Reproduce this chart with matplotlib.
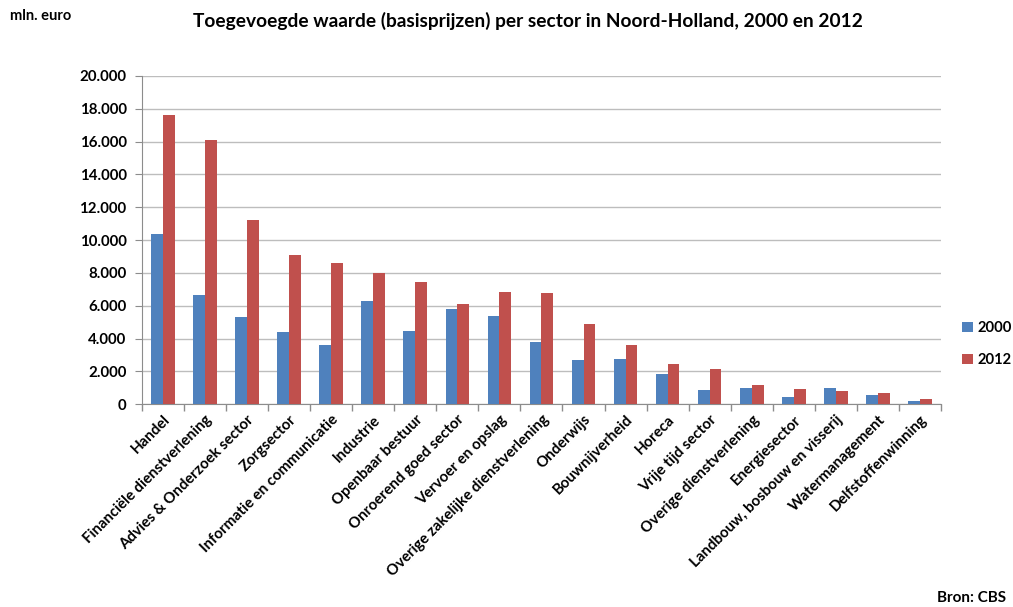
import matplotlib
matplotlib.use("Agg")
import matplotlib.pyplot as plt
import numpy as np
from matplotlib.ticker import FuncFormatter

categories = ["Handel", "Financiële dienstverlening", "Advies & Onderzoek sector", "Zorgsector",
              "Informatie en communicatie", "Industrie", "Openbaar bestuur", "Onroerend goed sector",
              "Vervoer en opslag", "Overige zakelijke dienstverlening", "Onderwijs", "Bouwnijverheid",
              "Horeca", "Vrije tijd sector", "Overige dienstverlening", "Energiesector",
              "Landbouw, bosbouw en visserij", "Watermanagement", "Delfstoffenwinning"]
values_2000 = [10350, 6630, 5300, 4390, 3580, 6300, 4440, 5830, 5350, 3780, 2720, 2780,
               1870, 850, 1020, 450, 980, 590, 200]
values_2012 = [17600, 16080, 11200, 9070, 8600, 8010, 7440, 6080, 6810, 6770, 4880, 3620,
               2480, 2150, 1160, 910, 810, 670, 300]
series_labels = ["2000", "2012"]
yticks = [0, 2000, 4000, 6000, 8000, 10000, 12000, 14000, 16000, 18000, 20000]

plt.rcParams['font.family'] = ['Lato', 'DejaVu Sans']
plt.rcParams['font.weight'] = 'bold'

fig = plt.figure(figsize=(10.13, 6.07), dpi=100)
ax = fig.add_axes([0.140, 0.334, 0.789, 0.541])

x = np.arange(len(categories))
w = 0.28
blue = "#4F81BD"
red = "#C0504D"
ax.bar(x - w / 2, values_2000, w, color=blue, label=series_labels[0], zorder=3)
ax.bar(x + w / 2, values_2012, w, color=red, label=series_labels[1], zorder=3)

ax.set_xlim(-0.5, len(categories) - 0.5)
ax.set_ylim(0, 20000)
ax.set_yticks(yticks)
ax.yaxis.set_major_formatter(FuncFormatter(lambda v, p: f"{int(v):,}".replace(",", ".")))
ax.grid(axis='y', color="#BDBDBD", linewidth=1.0, zorder=0)

ax.set_xticks(x)
ax.set_xticklabels(categories, rotation=45, ha='right', rotation_mode='anchor', fontsize=10.8,
                   fontweight='bold')
ax.tick_params(axis='x', length=0, pad=6)
ax.set_xticks(np.arange(-0.5, len(categories), 1), minor=True)
ax.tick_params(axis='x', which='minor', length=5, color="#8C8C8C", width=1)
ax.tick_params(axis='y', length=5, color="#8C8C8C", labelsize=10.8, pad=6)
for lab in ax.get_yticklabels():
    lab.set_fontweight('bold')

for s in ['top', 'right']:
    ax.spines[s].set_visible(False)
ax.spines['left'].set_color("#8C8C8C")
ax.spines['bottom'].set_color("#8C8C8C")

leg = fig.legend(loc='center left', bbox_to_anchor=(0.950, 0.433), frameon=False,
                 borderpad=0, borderaxespad=0,
                 handlelength=0.7, handleheight=0.7, handletextpad=0.3, labelspacing=1.2,
                 prop={'weight': 'bold', 'size': 10.6})

fig.text(0.521, 0.965, "Toegevoegde waarde (basisprijzen) per sector in Noord-Holland, 2000 en 2012",
         ha='center', va='center', fontsize=13.8, fontweight='bold')
fig.text(0.01, 0.973, "mln. euro", ha='left', va='center', fontsize=10.5, fontweight='bold')
fig.text(0.993, 0.015, "Bron: CBS", ha='right', va='center', fontsize=11, fontweight='bold')

fig.savefig("out.png", dpi=100)
